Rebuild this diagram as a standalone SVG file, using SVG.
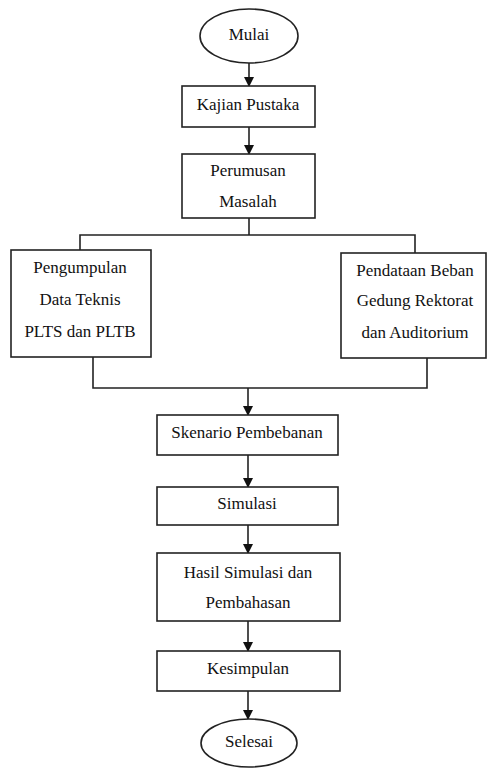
<svg xmlns="http://www.w3.org/2000/svg" width="488" height="769" viewBox="0 0 488 769">
<defs>
<style>
.box{fill:#fff;stroke:#222;stroke-width:1.6}
.ln{fill:none;stroke:#222;stroke-width:1.6}
</style>
<marker id="ah" markerWidth="10" markerHeight="11" refX="9" refY="5" orient="auto" markerUnits="userSpaceOnUse">
<path d="M0,0 L10,5 L0,10 Z" fill="#111"/>
</marker>
</defs>
<rect width="488" height="769" fill="#fff"/>
<g id="connectors">
<line class="ln" x1="249" y1="63" x2="249" y2="86" marker-end="url(#ah)"/>
<line class="ln" x1="249" y1="127" x2="249" y2="154" marker-end="url(#ah)"/>
<polyline class="ln" points="249,218 249,235"/>
<polyline class="ln" points="80,250 80,235 415,235 415,253"/>
<polyline class="ln" points="93,357 93,388 427,388 427,358"/>
<line class="ln" x1="248" y1="388" x2="248" y2="415" marker-end="url(#ah)"/>
<line class="ln" x1="248" y1="455" x2="248" y2="487" marker-end="url(#ah)"/>
<line class="ln" x1="248" y1="525" x2="248" y2="553" marker-end="url(#ah)"/>
<line class="ln" x1="248" y1="621" x2="248" y2="651" marker-end="url(#ah)"/>
<line class="ln" x1="248" y1="691" x2="248" y2="719" marker-end="url(#ah)"/>
</g>
<g font-size="17" fill="#111" text-anchor="middle">
<g id="mulai">
<ellipse class="box" cx="249" cy="36" rx="49" ry="27"/>
<text x="249" y="40" font-family="Liberation Serif">Mulai</text>
</g>
<g id="kajian">
<rect class="box" x="182" y="86" width="133" height="41"/>
<text x="248" y="110" font-family="Liberation Serif">Kajian Pustaka</text>
</g>
<g id="perumusan">
<rect class="box" x="182" y="154" width="133" height="64"/>
<text x="248" y="176" font-family="Liberation Serif">Perumusan</text>
<text x="248" y="207" font-family="Liberation Serif">Masalah</text>
</g>
<g id="pengumpulan">
<rect class="box" x="11" y="250" width="140" height="107"/>
<text x="80" y="273" font-family="Liberation Serif">Pengumpulan</text>
<text x="80" y="305" font-family="Liberation Serif">Data Teknis</text>
<text x="80" y="337" font-family="Liberation Serif">PLTS dan PLTB</text>
</g>
<g id="pendataan">
<rect class="box" x="341" y="253" width="145" height="105"/>
<text x="415" y="276" font-family="Liberation Serif">Pendataan Beban</text>
<text x="415" y="306" font-family="Liberation Serif">Gedung Rektorat</text>
<text x="415" y="338" font-family="Liberation Serif">dan Auditorium</text>
</g>
<g id="skenario">
<rect class="box" x="157" y="415" width="181" height="40"/>
<text x="247" y="438" font-family="Liberation Serif">Skenario Pembebanan</text>
</g>
<g id="simulasi">
<rect class="box" x="157" y="487" width="181" height="38"/>
<text x="247" y="509" font-family="Liberation Serif">Simulasi</text>
</g>
<g id="hasil">
<rect class="box" x="157" y="553" width="183" height="68"/>
<text x="248" y="578" font-family="Liberation Serif">Hasil Simulasi dan</text>
<text x="248" y="608" font-family="Liberation Serif">Pembahasan</text>
</g>
<g id="kesimpulan">
<rect class="box" x="157" y="651" width="183" height="40"/>
<text x="248" y="674" font-family="Liberation Serif">Kesimpulan</text>
</g>
<g id="selesai">
<ellipse class="box" cx="249" cy="743" rx="48" ry="24"/>
<text x="249" y="747" font-family="Liberation Serif">Selesai</text>
</g>
</g>
</svg>
